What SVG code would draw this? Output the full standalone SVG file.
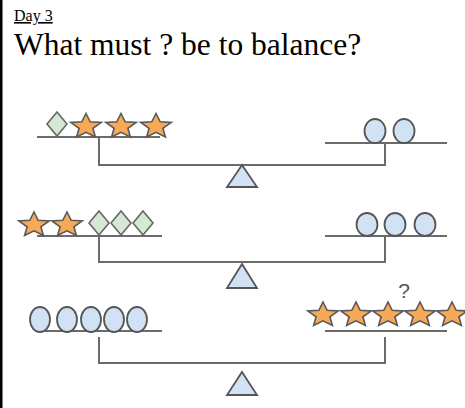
<svg xmlns="http://www.w3.org/2000/svg" xmlns:xlink="http://www.w3.org/1999/xlink" width="465" height="408" viewBox="0 0 465 408">
<style>
.line{stroke:#6b6b6b;stroke-width:2;fill:none}
.pan{stroke:#6b6b6b;stroke-width:2;fill:none}
.star{fill:#f6a956;stroke:#595959;stroke-width:1.6;stroke-linejoin:miter}
.dia{fill:#d5e8d4;stroke:#666;stroke-width:1.6}
.circ{fill:#d0e2f4;stroke:#555;stroke-width:1.8}
.tri{fill:#d0e2f4;stroke:#555;stroke-width:1.8;stroke-linejoin:miter}
.title{font-family:"Liberation Serif","Times New Roman",serif;fill:#000}
.q{font-family:"Liberation Sans",Arial,sans-serif;fill:#555;font-size:21px}
</style>
<defs>
<path id="star" d="M0,-13 L4.2,-4.7 L15.2,-4.0 L6.9,1.8 L9.4,10.5 L0,5.9 L-9.4,10.5 L-6.9,1.8 L-15.2,-4.0 L-4.2,-4.7 Z"/>
<path id="dia" d="M0,-12 L10,0 L0,12 L-10,0 Z"/>
</defs>
<rect x="0" y="0" width="2.5" height="408" fill="#000"/>
<text class="title" x="14" y="21" font-size="16" text-decoration="underline">Day 3</text>
<text class="title" x="14" y="55" font-size="31.5">What must ? be to balance?</text>

<g id="connectors">
<path class="pan" d="M37,137 H160"/>
<path class="pan" d="M325,143 H447"/>
<path class="line" d="M99,137 V165 H385 V143"/>
<path class="pan" d="M37,236 H162"/>
<path class="pan" d="M325,236 H447"/>
<path class="line" d="M99,236 V262 H385 V236"/>
<path class="pan" d="M37,331 H162"/>
<path class="pan" d="M325,331 H447"/>
<path class="line" d="M99,337 V363 H385 V337"/>
</g>

<g id="scale1">
<use xlink:href="#dia" class="dia" x="57" y="124"/>
<use xlink:href="#star" class="star" x="86" y="126.5"/>
<use xlink:href="#star" class="star" x="121" y="126.5"/>
<use xlink:href="#star" class="star" x="156" y="126.5"/>
<ellipse class="circ" cx="375" cy="131" rx="10.5" ry="12"/>
<ellipse class="circ" cx="404" cy="131" rx="10.5" ry="12"/>
<path class="tri" d="M242,165 L257,187 L227,187 Z"/>
</g>

<g id="scale2">
<use xlink:href="#star" class="star" x="34" y="225"/>
<use xlink:href="#star" class="star" x="67" y="225"/>
<use xlink:href="#dia" class="dia" x="99" y="223"/>
<use xlink:href="#dia" class="dia" x="121" y="223"/>
<use xlink:href="#dia" class="dia" x="143" y="223"/>
<ellipse class="circ" cx="367" cy="224.5" rx="10.5" ry="11.5"/>
<ellipse class="circ" cx="395" cy="224.5" rx="10.5" ry="11.5"/>
<ellipse class="circ" cx="425" cy="224.5" rx="10.5" ry="11.5"/>
<path class="tri" d="M242,264 L257,288 L227,288 Z"/>
</g>

<g id="scale3">
<ellipse class="circ" cx="40" cy="319.5" rx="10" ry="12.5"/>
<ellipse class="circ" cx="67" cy="319.5" rx="10" ry="12.5"/>
<ellipse class="circ" cx="91" cy="319.5" rx="10" ry="12.5"/>
<ellipse class="circ" cx="114" cy="319.5" rx="10" ry="12.5"/>
<ellipse class="circ" cx="137" cy="319.5" rx="10" ry="12.5"/>
<use xlink:href="#star" class="star" x="323" y="315"/>
<use xlink:href="#star" class="star" x="356" y="315"/>
<use xlink:href="#star" class="star" x="388" y="315"/>
<use xlink:href="#star" class="star" x="420" y="315"/>
<use xlink:href="#star" class="star" x="452" y="315"/>
<text class="q" x="404" y="298" text-anchor="middle">?</text>
<path class="tri" d="M242,372 L257,395 L227,395 Z"/>
</g>
</svg>
